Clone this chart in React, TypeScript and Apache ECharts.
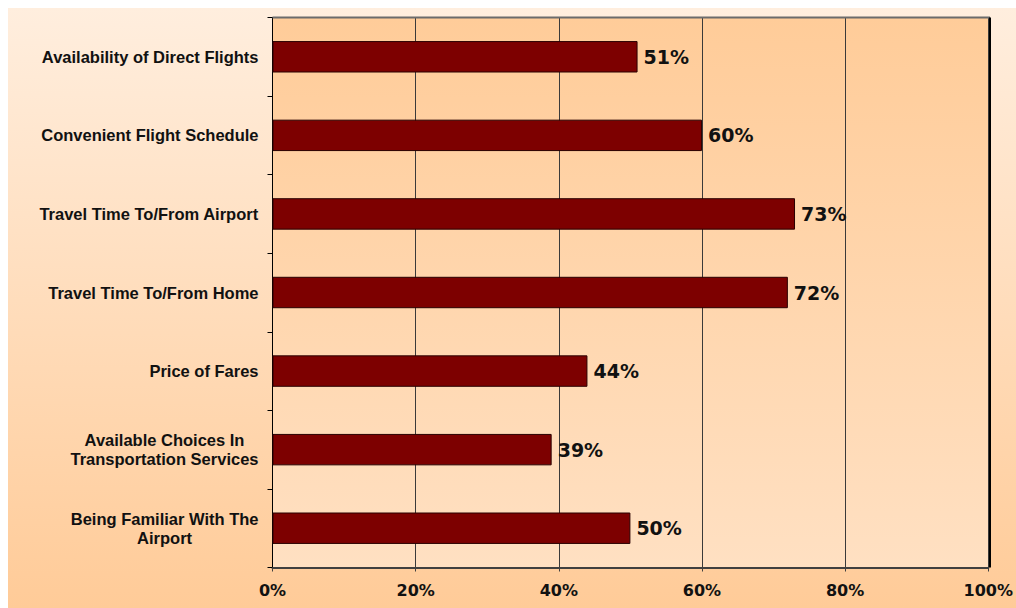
import React, { useEffect, useRef } from "react";
import * as echarts from "echarts";

const categories: string[] = [
  "Availability of Direct Flights",
  "Convenient Flight Schedule",
  "Travel Time To/From Airport",
  "Travel Time To/From Home",
  "Price of Fares",
  "Available Choices In\nTransportation Services",
  "Being Familiar With The\nAirport",
];
const values: number[] = [51, 60, 73, 72, 44, 39, 50];

export default function App() {
  const ref = useRef<HTMLDivElement>(null);
  useEffect(() => {
    if (!ref.current) return;
    const chart = echarts.init(ref.current, null, { renderer: "svg" });
    const font = "'DejaVu Sans', Verdana, sans-serif";
    const catFont = "'Liberation Sans', Arial, sans-serif";
    chart.setOption({
      animation: false,
      backgroundColor: new echarts.graphic.LinearGradient(0, 0, 0, 1, [
        { offset: 0, color: "#FFEEDE" },
        { offset: 1, color: "#FFCB98" },
      ]),
      grid: {
        left: 264.5,
        top: 9.5,
        right: 26,
        bottom: 40.5,
        show: true,
        backgroundColor: new echarts.graphic.LinearGradient(0, 0, 0, 1, [
          { offset: 0, color: "#FFCC99" },
          { offset: 1, color: "#FFE0C2" },
        ]),
        borderWidth: 0,
      },
      xAxis: {
        type: "value",
        min: 0,
        max: 100,
        interval: 20,
        position: "bottom",
        axisLine: { show: true, lineStyle: { color: "#404040", width: 2 } },
        axisTick: { show: true, length: 4, lineStyle: { color: "#404040" } },
        splitLine: { show: true, lineStyle: { color: "#3a3a3a", width: 1 } },
        axisLabel: {
          formatter: (v: number) => v + "%",
          fontFamily: font,
          fontWeight: "bold",
          fontSize: 16,
          color: "#111",
          margin: 15,
        },
      },
      yAxis: [
        {
          type: "category",
          data: categories,
          inverse: true,
          axisLine: { show: true, lineStyle: { color: "#000", width: 1 } },
          axisTick: { show: true, length: 5, lineStyle: { color: "#000" } },
          axisLabel: {
            fontFamily: catFont,
            fontWeight: "bold",
            fontSize: 16.5,
            color: "#111",
            margin: 14,
            lineHeight: 19,
            formatter: (v: string) =>
              v
                .split("\n")
                .map((l) => "{c|" + l + "}")
                .join("\n"),
            rich: {
              c: {
                align: "center",
                fontFamily: catFont,
                fontWeight: "bold",
                fontSize: 16.5,
                color: "#111",
                lineHeight: 19,
              },
            },
          },
        },
      ],
      graphic: [
        {
          type: "line",
          shape: { x1: 264.5, y1: 9.5, x2: 982, y2: 9.5 },
          style: { stroke: "#6b6b6b", lineWidth: 2 },
          z: 10,
        },
        {
          type: "line",
          shape: { x1: 982, y1: 9.5, x2: 982, y2: 559.5 },
          style: { stroke: "#000", lineWidth: 2 },
          z: 10,
        },
      ],
      series: [
        {
          type: "bar",
          data: values,
          barWidth: "40%",
          itemStyle: { color: "#7D0000", borderColor: "#2a0000", borderWidth: 1 },
          label: {
            show: true,
            position: "right",
            distance: 6,
            formatter: (p: any) => p.value + "%",
            fontFamily: font,
            fontWeight: "bold",
            fontSize: 19,
            color: "#111",
          },
        },
      ],
    });
    return () => chart.dispose();
  }, []);
  return (
    <div
      ref={ref}
      style={{ position: "absolute", left: 8, top: 8, width: 1008, height: 600 }}
    />
  );
}
